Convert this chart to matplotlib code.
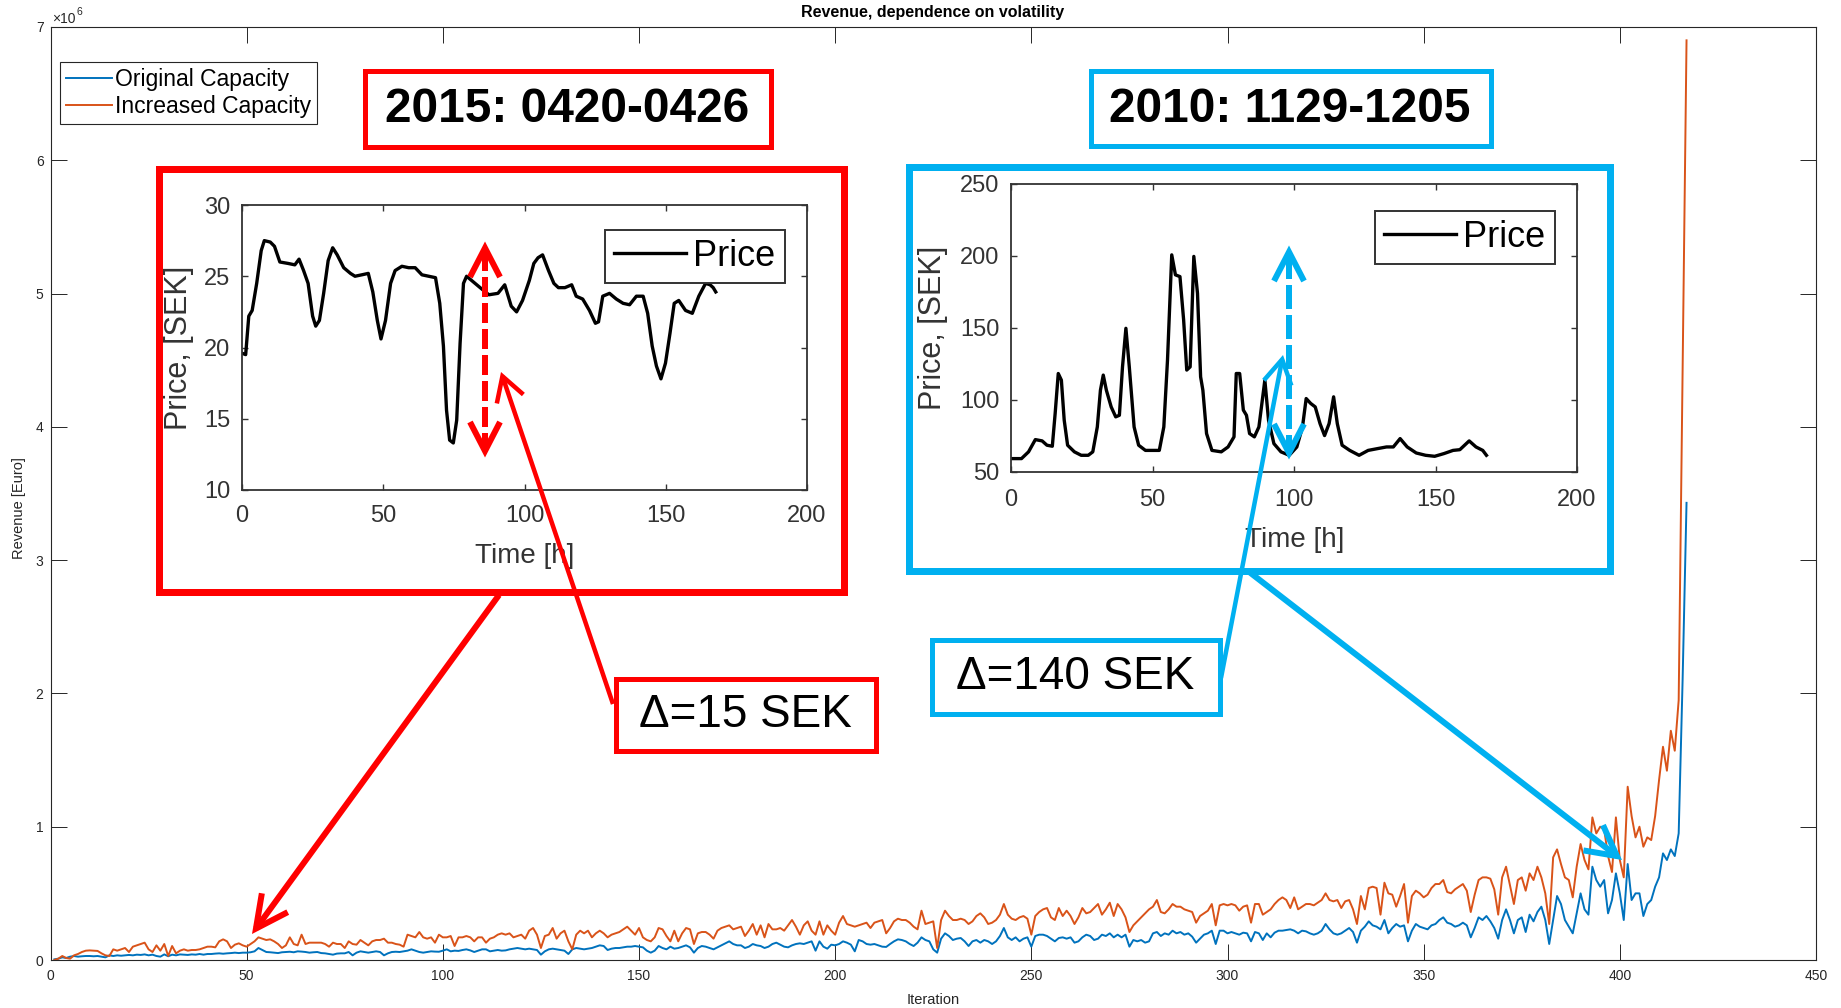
import matplotlib
matplotlib.use('Agg')
import matplotlib.pyplot as plt
from matplotlib.patches import Rectangle, FancyArrowPatch, ArrowStyle
from matplotlib.lines import Line2D

plt.rcParams['font.family'] = ['Liberation Sans', 'DejaVu Sans']

# ---------------- data (revenue in units of 1e6 Euro) ----------------
revenue_original = [
    0.005, 0.01, 0.02, 0.015, 0.025, 0.03, 0.025, 0.028, 0.03, 0.03,
    0.028, 0.03, 0.025, 0.02, 0.035, 0.03, 0.035, 0.032, 0.035, 0.038,
    0.035, 0.04, 0.038, 0.042, 0.035, 0.04, 0.03, 0.025, 0.042, 0.028,
    0.04, 0.035, 0.042, 0.04, 0.038, 0.042, 0.04, 0.045, 0.04, 0.045,
    0.045, 0.048, 0.05, 0.047, 0.05, 0.052, 0.055, 0.052, 0.055, 0.055,
    0.058, 0.065, 0.09, 0.075, 0.06, 0.058, 0.055, 0.052, 0.058, 0.06,
    0.062, 0.058, 0.065, 0.063, 0.06, 0.055, 0.058, 0.06, 0.052, 0.05,
    0.045, 0.04, 0.048, 0.05, 0.05, 0.06, 0.035, 0.055, 0.065, 0.06,
    0.055, 0.06, 0.065, 0.06, 0.035, 0.05, 0.06, 0.062, 0.06, 0.065,
    0.07, 0.08, 0.07, 0.06, 0.055, 0.06, 0.065, 0.063, 0.062, 0.07,
    0.08, 0.065, 0.07, 0.068, 0.075, 0.08, 0.072, 0.06, 0.07, 0.08,
    0.08, 0.065, 0.07, 0.075, 0.07, 0.072, 0.08, 0.085, 0.09, 0.085,
    0.08, 0.085, 0.08, 0.075, 0.04, 0.065, 0.08, 0.085, 0.08, 0.075,
    0.07, 0.045, 0.08, 0.09, 0.085, 0.08, 0.085, 0.09, 0.1, 0.11,
    0.105, 0.075, 0.085, 0.09, 0.09, 0.095, 0.1, 0.1, 0.105, 0.1,
    0.095, 0.07, 0.055, 0.07, 0.105, 0.09, 0.08, 0.1, 0.085, 0.09,
    0.1, 0.11, 0.095, 0.055, 0.09, 0.105, 0.1, 0.09, 0.08, 0.095,
    0.11, 0.125, 0.14, 0.12, 0.11, 0.11, 0.09, 0.1, 0.12, 0.11,
    0.105, 0.09, 0.1, 0.12, 0.13, 0.115, 0.1, 0.095, 0.11, 0.12,
    0.125, 0.12, 0.13, 0.14, 0.07, 0.14, 0.1, 0.085, 0.115, 0.11,
    0.12, 0.14, 0.13, 0.115, 0.065, 0.15, 0.14, 0.12, 0.115, 0.12,
    0.11, 0.1, 0.098, 0.12, 0.14, 0.155, 0.15, 0.14, 0.12, 0.105,
    0.13, 0.17, 0.15, 0.14, 0.08, 0.055, 0.16, 0.2, 0.18, 0.15,
    0.16, 0.165, 0.14, 0.105, 0.14, 0.15, 0.13, 0.15, 0.14, 0.12,
    0.14, 0.18, 0.24, 0.17, 0.15, 0.17, 0.14, 0.16, 0.17, 0.1,
    0.18, 0.19, 0.19, 0.18, 0.16, 0.14, 0.165, 0.17, 0.16, 0.17,
    0.13, 0.14, 0.17, 0.19, 0.18, 0.15, 0.16, 0.19, 0.18, 0.2,
    0.17, 0.19, 0.17, 0.19, 0.1, 0.15, 0.14, 0.15, 0.13, 0.14,
    0.2, 0.21, 0.18, 0.2, 0.19, 0.22, 0.2, 0.21, 0.19, 0.2,
    0.175, 0.13, 0.16, 0.19, 0.2, 0.22, 0.12, 0.22, 0.22, 0.2,
    0.21, 0.2, 0.19, 0.205, 0.2, 0.14, 0.21, 0.2, 0.15, 0.2,
    0.17, 0.205, 0.22, 0.22, 0.225, 0.23, 0.22, 0.2, 0.22, 0.215,
    0.2, 0.19, 0.2, 0.22, 0.27, 0.23, 0.2, 0.19, 0.2, 0.22,
    0.24, 0.21, 0.13, 0.22, 0.25, 0.29, 0.26, 0.25, 0.23, 0.3,
    0.2, 0.24, 0.27, 0.25, 0.26, 0.14, 0.22, 0.27, 0.25, 0.24,
    0.23, 0.26, 0.27, 0.3, 0.32, 0.28, 0.27, 0.25, 0.26, 0.28,
    0.26, 0.17, 0.24, 0.32, 0.3, 0.33, 0.29, 0.24, 0.16, 0.3,
    0.38, 0.3, 0.2, 0.3, 0.32, 0.21, 0.34, 0.29, 0.36, 0.4,
    0.3, 0.12, 0.3, 0.48, 0.42, 0.3, 0.25, 0.2, 0.35, 0.5,
    0.38, 0.34, 0.7, 0.6, 0.55, 0.6, 0.35, 0.45, 0.65, 0.5,
    0.3, 0.72, 0.45, 0.5, 0.5, 0.33, 0.42, 0.45, 0.55, 0.62,
    0.8, 0.75, 0.83, 0.78, 0.95, 2.1, 3.43,
]
revenue_increased = [
    0.0, 0.01, 0.03, 0.015, 0.01, 0.035, 0.045, 0.06, 0.07, 0.072,
    0.07, 0.068, 0.05, 0.035, 0.03, 0.08, 0.07, 0.08, 0.09, 0.06,
    0.1, 0.11, 0.12, 0.13, 0.08, 0.06, 0.11, 0.07, 0.12, 0.03,
    0.105, 0.05, 0.07, 0.08, 0.07, 0.075, 0.075, 0.08, 0.09, 0.1,
    0.1, 0.095, 0.14, 0.155, 0.14, 0.09, 0.115, 0.125, 0.11, 0.1,
    0.12, 0.14, 0.17, 0.16, 0.15, 0.155, 0.14, 0.12, 0.09, 0.11,
    0.17, 0.12, 0.11, 0.19, 0.12, 0.13, 0.13, 0.13, 0.13, 0.12,
    0.1, 0.13, 0.12, 0.12, 0.09, 0.14, 0.12, 0.115, 0.15, 0.13,
    0.11, 0.14, 0.15, 0.15, 0.16, 0.13, 0.13, 0.12, 0.115, 0.1,
    0.19, 0.18, 0.17, 0.21, 0.17, 0.16, 0.17, 0.13, 0.19, 0.17,
    0.17, 0.18, 0.105, 0.17, 0.17, 0.18, 0.17, 0.14, 0.17, 0.17,
    0.13, 0.16, 0.17, 0.19, 0.2, 0.19, 0.2, 0.17, 0.18, 0.19,
    0.16, 0.22, 0.24, 0.19, 0.09, 0.18, 0.19, 0.24, 0.16, 0.2,
    0.22, 0.14, 0.08, 0.19, 0.22, 0.2, 0.22, 0.17, 0.2, 0.22,
    0.2, 0.17, 0.19, 0.2, 0.21, 0.23, 0.25, 0.22, 0.19, 0.24,
    0.17, 0.15, 0.14, 0.17, 0.24, 0.23, 0.18, 0.14, 0.22, 0.14,
    0.2, 0.24, 0.23, 0.12, 0.2, 0.21, 0.21, 0.19, 0.16, 0.22,
    0.24, 0.25, 0.26, 0.23, 0.24, 0.25, 0.18, 0.22, 0.27, 0.19,
    0.26, 0.17, 0.27, 0.23, 0.23, 0.24, 0.22, 0.26, 0.3, 0.25,
    0.19, 0.26, 0.29, 0.22, 0.19, 0.29, 0.19, 0.26, 0.22, 0.19,
    0.28, 0.33, 0.27, 0.26, 0.25, 0.26, 0.27, 0.28, 0.24, 0.28,
    0.29, 0.3, 0.2, 0.24, 0.29, 0.31, 0.3, 0.3, 0.28, 0.25,
    0.23, 0.37, 0.27, 0.28, 0.29, 0.09, 0.3, 0.37, 0.33, 0.3,
    0.3, 0.31, 0.3, 0.27, 0.29, 0.33, 0.35, 0.32, 0.27, 0.28,
    0.3, 0.34, 0.42, 0.34, 0.31, 0.3, 0.32, 0.33, 0.31, 0.19,
    0.33, 0.36, 0.38, 0.39, 0.32, 0.3, 0.39, 0.33, 0.37, 0.33,
    0.27, 0.32, 0.39, 0.35, 0.36, 0.39, 0.42, 0.34, 0.38, 0.43,
    0.33, 0.42, 0.38, 0.32, 0.21, 0.26, 0.29, 0.32, 0.35, 0.38,
    0.4, 0.45, 0.36, 0.35, 0.38, 0.42, 0.4, 0.4, 0.38, 0.37,
    0.36, 0.28, 0.33, 0.35, 0.37, 0.42, 0.26, 0.41, 0.42, 0.41,
    0.42, 0.41, 0.37, 0.4, 0.41, 0.28, 0.42, 0.42, 0.34, 0.36,
    0.38, 0.42, 0.45, 0.47, 0.45, 0.39, 0.47, 0.38, 0.4, 0.42,
    0.42, 0.41, 0.43, 0.45, 0.5, 0.45, 0.44, 0.45, 0.39, 0.44,
    0.45, 0.38, 0.27, 0.48, 0.38, 0.54, 0.55, 0.54, 0.34, 0.58,
    0.5, 0.49, 0.4, 0.48, 0.57, 0.28, 0.48, 0.52, 0.5, 0.47,
    0.49, 0.54, 0.57, 0.57, 0.6, 0.51, 0.5, 0.53, 0.55, 0.57,
    0.52, 0.36, 0.49, 0.6, 0.62, 0.62, 0.61, 0.53, 0.34, 0.62,
    0.7, 0.56, 0.42, 0.6, 0.62, 0.52, 0.65, 0.6, 0.7, 0.62,
    0.5, 0.27, 0.77, 0.83, 0.72, 0.62, 0.6, 0.47, 0.7, 0.87,
    0.75, 0.68, 1.07, 0.95, 1.0, 0.98, 0.78, 0.66, 1.07, 0.75,
    0.62, 1.3, 1.08, 0.92, 1.0, 0.85, 0.92, 0.9, 1.08, 1.35,
    1.6, 1.42, 1.72, 1.57, 1.95, 4.4, 6.9,
]
iterations = list(range(1, len(revenue_original) + 1))

x_ticks = [0, 50, 100, 150, 200, 250, 300, 350, 400, 450]
y_ticks = [0, 1, 2, 3, 4, 5, 6, 7]

# inset 1: price 2015 week 0420-0426
price2015_hours = [0, 1.3, 2.4, 3.6, 5.2, 6.8, 7.9, 10, 11.5, 13.4, 16.3, 18.7, 20.2, 21.8, 23.4,
                   25, 26.1, 27.4, 28.9, 30.5, 32.1, 33.7, 36, 38.4, 40, 42.4, 44.7, 46.3, 47.9,
                   49.2, 50.8, 52.6, 54.2, 56.6, 59, 61.3, 63.7, 66.1, 68.5, 70, 71.3, 72.4, 73.5,
                   74.8, 76, 77.2, 78.4, 79.5, 81.9, 84.3, 87.4, 90.6, 93, 95.3, 97.2, 99.3, 101.7,
                   103.3, 104.8, 106.4, 108.5, 110.4, 112, 114.3, 116.7, 118.3, 120.6, 123, 125.1,
                   126.2, 127.7, 130.1, 132.5, 134.9, 137.2, 139.6, 142, 143.6, 145.2, 146.7, 148.3,
                   149.9, 151.5, 153, 154.6, 157, 159.4, 161.7, 164.1, 165.7, 166.8, 167.7]
price2015 = [19.6, 19.5, 22.2, 22.6, 24.5, 26.8, 27.5, 27.4, 27.1, 26.0, 25.9, 25.8, 26.2, 25.4, 24.5,
             22.2, 21.5, 21.9, 23.8, 26.1, 27.0, 26.5, 25.6, 25.2, 25.0, 25.1, 25.2, 23.9, 21.9,
             20.6, 21.9, 24.5, 25.4, 25.7, 25.6, 25.6, 25.1, 25.0, 24.9, 23.1, 20.1, 15.6, 13.5,
             13.3, 14.9, 20.3, 24.5, 25.0, 24.6, 24.2, 23.7, 23.8, 24.4, 22.9, 22.5, 23.3, 24.7,
             25.9, 26.3, 26.5, 25.4, 24.5, 24.2, 24.2, 24.4, 23.6, 23.4, 22.6, 21.7,
             21.8, 23.6, 23.8, 23.4, 23.1, 23.0, 23.6, 23.6, 22.4, 20.1, 18.7, 17.8,
             18.9, 21.0, 23.1, 23.3, 22.6, 22.4, 23.6, 24.5, 24.4, 24.2, 23.9]

# inset 2: price 2010 week 1129-1205
price2010_hours = [0.5, 3.7, 6.2, 8.6, 11, 12.7, 14.6, 15.6, 16.7, 17.8, 18.8, 20, 22.4, 24.8, 27.3,
                   28.9, 30.5, 31.6, 32.6, 33.7, 35.4, 37, 38.3, 39.4, 40.6, 41.8, 43.5, 45.1, 47.5,
                   50, 52.4, 54, 55.3, 56.8, 58.1, 59.7, 61, 62.1, 63.3, 64.6, 65.9, 67, 67.8, 69.1,
                   71, 74.3, 76.7, 78.8, 79.6, 80.8, 82.1, 83.2, 84.3, 86, 87.6, 89.7, 91, 92.9,
                   95.4, 98.3, 101, 103, 104.3, 105.9, 107.5, 109.2, 110.8, 112.4, 114, 115.3, 117,
                   119.7, 123, 126.2, 129.4, 132.7, 135.1, 137.5, 140, 143.2, 146.5, 149.7, 153,
                   156.2, 158.6, 161.9, 164.3, 166.7, 168]
price2010 = [59.3, 59.3, 64, 72.5, 71.6, 68.6, 67.9, 90.6, 118.4, 113.8, 86, 68.6, 64, 61.6, 61.6,
             64, 81.3, 106.8, 117.3, 106.8, 95.2, 88.3, 89.4, 123, 149.8, 123, 81.3, 68.6, 65,
             65, 65, 81.3, 127.7, 200.8, 186.9, 185.7, 155.6, 120.8, 123, 199.7, 174.1, 116.1, 106.8, 76.7,
             65, 64, 67.4, 74.4, 118.4, 118.4, 93, 89.4, 76.7, 74.4, 81.3, 113.8, 86, 69.7,
             64, 61.6, 67.4, 81.3, 101, 97.6, 95.2, 83.6, 75.3, 83.6, 102.2, 83.6, 68.6,
             65, 61.6, 65, 66.2, 67.4, 67.4, 73.2, 67.4, 63.2, 61.6, 60.9, 62.8,
             65, 65.5, 71.6, 67.4, 65, 61.6]

# ---------------- figure helpers (pixel layout) ----------------
W, H = 1841, 1008
PX = 100 / 72.0  # pixels per point
fig = plt.figure(figsize=(W / 100, H / 100), dpi=100)


def fx(x):
    return x / W


def fy(y):
    return 1 - y / H


def rect_ax(l, t, r, b):
    return [fx(l), fy(b), (r - l) / W, (b - t) / H]


AX_COL = '#262626'

# ---------------- main axes ----------------
ax = fig.add_axes(rect_ax(50.5, 27, 1816, 960), zorder=0)
ax.plot(iterations, revenue_original, color='#0072BD', lw=1.4, label='Original Capacity')
ax.plot(iterations, revenue_increased, color='#D95319', lw=1.4, label='Increased Capacity')
ax.set_xlim(0, 450)
ax.set_ylim(0, 7)
ax.set_xticks(x_ticks)
ax.set_yticks(y_ticks)
ax.tick_params(direction='in', length=11.5, width=0.7, top=True, right=True,
               labelsize=10, colors=AX_COL)
ax.tick_params(axis='x', pad=6.5)
ax.tick_params(axis='y', pad=5)
for s in ax.spines.values():
    s.set_color(AX_COL)
    s.set_linewidth(0.8)

leg = ax.legend(loc='upper left', bbox_to_anchor=(fx(60), fy(62)), bbox_transform=fig.transFigure,
                borderaxespad=0, fontsize=16.5, handlelength=2.0, handletextpad=0.15,
                borderpad=0.25, labelspacing=0.2, fancybox=False, edgecolor=AX_COL, framealpha=1)
leg.get_frame().set_linewidth(0.8)

fig.text(fx(933), fy(13), 'Revenue, dependence on volatility', ha='center', va='center',
         fontsize=11.5, fontweight='bold', color='black')
fig.text(fx(933), fy(1000), 'Iteration', ha='center', va='center', fontsize=10.5, color=AX_COL)
fig.text(fx(19), fy(508), 'Revenue [Euro]', ha='center', va='center', rotation=90,
         fontsize=10.5, color=AX_COL)
fig.text(fx(52), fy(23), '\u00d710', ha='left', va='baseline', fontsize=10, color=AX_COL)
fig.text(fx(76.5), fy(15), '6', ha='left', va='baseline', fontsize=7.5, color=AX_COL)

RED = '#FF0000'
BLUE = '#00B0F0'


def box(l, t, r, b, color, lw_px, z):
    rect = Rectangle((fx(l + lw_px / 2), fy(b - lw_px / 2)), (r - l - lw_px) / W, (b - t - lw_px) / H,
                     transform=fig.transFigure, facecolor='white', edgecolor=color,
                     linewidth=lw_px / PX, zorder=z, joinstyle='miter')
    fig.add_artist(rect)


# big frames
box(155, 166, 847, 595, RED, 7, 1)
box(905, 163, 1613, 574, BLUE, 7, 1)

INSET_COL = '#333333'


def make_inset(rect, hours, price, ylim, yticks, leg_lt, xlab, ylab, xpad, ypad):
    a = fig.add_axes(rect_ax(*rect), zorder=2)
    a.plot(hours, price, color='black', lw=2.4, label='Price')
    a.set_xlim(0, 200)
    a.set_ylim(*ylim)
    a.set_xticks([0, 50, 100, 150, 200])
    a.set_yticks(yticks)
    a.tick_params(direction='in', length=4, width=1, top=True, right=True,
                  labelsize=17, colors=INSET_COL)
    a.tick_params(axis='x', pad=xpad)
    a.tick_params(axis='y', pad=ypad)
    for s in a.spines.values():
        s.set_color(INSET_COL)
        s.set_linewidth(1.3)
    lg = a.legend(loc='upper left', bbox_to_anchor=(fx(leg_lt[0]), fy(leg_lt[1])),
                  bbox_transform=fig.transFigure, borderaxespad=0, fontsize=26,
                  handlelength=2.0, handletextpad=0.2, borderpad=0.25, fancybox=False,
                  edgecolor=INSET_COL, framealpha=1)
    lg.get_frame().set_linewidth(1.4)
    fig.text(fx(xlab[0]), fy(xlab[1]), 'Time [h]', ha='center', va='center', fontsize=20,
             color=INSET_COL, zorder=3)
    fig.text(fx(ylab[0]), fy(ylab[1]), 'Price, [SEK]', ha='center', va='center', rotation=90,
             fontsize=22, color=INSET_COL, zorder=3)
    return a


make_inset((242, 205, 807, 490), price2015_hours, price2015, (10, 30), [10, 15, 20, 25, 30],
           (605, 230), (525, 556), (179, 348), 11, 8.5)
make_inset((1011, 184, 1577, 472), price2010_hours, price2010, (50, 250), [50, 100, 150, 200, 250],
           (1375, 211), (1295, 540), (933, 328), 12, 8.5)

# title boxes and delta boxes
box(362, 68, 773, 149, RED, 5, 4)
box(1088, 68, 1493, 148, BLUE, 5, 4)
box(613, 676, 878, 753, RED, 5, 4)
box(929, 637, 1222, 716, BLUE, 5, 4)

fig.text(fx(567), fy(110), '2015: 0420-0426', ha='center', va='center', fontsize=34.5,
         fontweight='bold', color='black', zorder=6)
fig.text(fx(1290), fy(109), '2010: 1129-1205', ha='center', va='center', fontsize=34.5,
         fontweight='bold', color='black', zorder=6)
fig.text(fx(745), fy(715), '\u0394=15 SEK', ha='center', va='center', fontsize=33,
         color='black', zorder=6)
fig.text(fx(1075), fy(677), '\u0394=140 SEK', ha='center', va='center', fontsize=33,
         color='black', zorder=6)


def arrow(p0, p1, color, lw_px, hl_px, hw_px, z=5):
    st = ArrowStyle('->', head_length=hl_px / PX, head_width=hw_px / PX)
    a = FancyArrowPatch((fx(p0[0]), fy(p0[1])), (fx(p1[0]), fy(p1[1])),
                        transform=fig.transFigure, arrowstyle=st, mutation_scale=1,
                        lw=lw_px / PX, color=color, zorder=z, shrinkA=0, shrinkB=0,
                        joinstyle='miter', capstyle='butt')
    fig.add_artist(a)


arrow((499, 595), (252, 934), RED, 6, 32, 16)
arrow((1248, 571), (1622, 860), BLUE, 6, 30, 16)
arrow((613, 704), (501, 372), RED, 4.5, 24, 14)
arrow((1221, 678), (1283, 355), BLUE, 4.5, 24, 14)


def dashed_double(x, yt, yb, color, lw_px, on_px, off_px, hl, hw):
    ln = Line2D([fx(x), fx(x)], [fy(yt + 3), fy(yb - 3)], transform=fig.transFigure, color=color,
                lw=lw_px / PX, ls=(0, (on_px / lw_px, off_px / lw_px)), zorder=5,
                solid_capstyle='butt', dash_capstyle='butt')
    fig.add_artist(ln)
    for tip, s in ((yt, 1), (yb, -1)):
        ch = Line2D([fx(x - hw), fx(x), fx(x + hw)], [fy(tip + s * hl), fy(tip), fy(tip + s * hl)],
                    transform=fig.transFigure, color=color, lw=lw_px / PX, zorder=5,
                    solid_joinstyle='miter', solid_capstyle='butt')
        fig.add_artist(ch)


dashed_double(485, 248, 451, RED, 6, 20, 6, 29, 15)
dashed_double(1289, 252, 453, BLUE, 6, 24, 6, 29, 15)

fig.savefig('out.png', dpi=100, facecolor='white')
